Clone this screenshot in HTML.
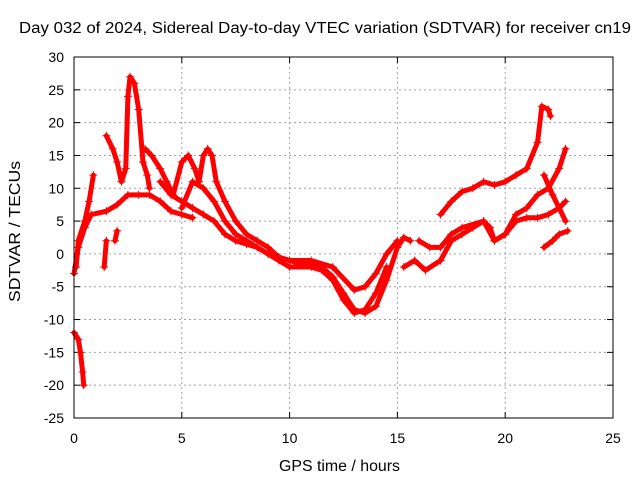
<!DOCTYPE html>
<html><head><meta charset="utf-8"><style>
body{margin:0;background:#fff}
svg{display:block;font-family:"Liberation Sans",sans-serif}
</style></head><body>
<svg id="chart" width="640" height="480" xmlns="http://www.w3.org/2000/svg">
<rect width="640" height="480" fill="#fff"/>
<text x="19" y="33" font-size="15.5" textLength="612" lengthAdjust="spacingAndGlyphs">Day 032 of 2024, Sidereal Day-to-day VTEC variation (SDTVAR) for receiver cn19</text>
<text x="279" y="471" font-size="15.5" textLength="121" lengthAdjust="spacingAndGlyphs">GPS time / hours</text>
<text transform="translate(20,302) rotate(-90)" font-size="15.5" textLength="141" lengthAdjust="spacingAndGlyphs">SDTVAR / TECUs</text>
<g id="grid"></g><g id="ticks"></g><g id="marks"></g>
<rect x="74" y="57" width="539" height="361" fill="none" stroke="#000"/>
</svg>
<script>
const xTicks=[0,5,10,15,20,25];
const yTicks=[30,25,20,15,10,5,0,-5,-10,-15,-20,-25];
const track1=[[0,-3],[0.2,1],[0.5,4],[0.8,6],[1.5,6.5],[2,7.5],[2.5,9],[3,9],[3.5,9],[4,8],[4.5,6.5],[5,6],[5.5,5.5]];
const track2=[[0.1,-2],[0.2,2],[0.5,5],[0.7,8],[0.9,12]];
const track3=[[1.5,18],[1.8,16],[2,14],[2.2,11],[2.4,13],[2.5,24],[2.6,27],[2.8,26],[3,22],[3.2,14],[3.4,12],[3.5,10]];
const track4=[[3.3,16],[3.6,15],[4,13],[4.3,11],[4.6,9],[5,14],[5.3,15],[5.6,13],[5.8,11],[6,15],[6.2,16],[6.4,15],[6.6,11],[7,8],[7.5,5],[8,3],[8.5,2],[9,1],[9.5,-0.5],[10,-1],[10.5,-1.5],[11,-1.5],[11.5,-2],[12,-3.5],[12.5,-6],[13,-8.5],[13.5,-9],[14,-8],[14.5,-4],[15,1],[15.3,2.5],[15.6,2]];
const track5=[[4,11],[4.5,9],[5,8],[5.5,7],[6,6],[6.5,5],[7,3],[7.5,2],[8,1.5],[8.5,1],[9,0],[9.5,-1],[10,-2],[11,-2],[11.5,-2.5],[12,-4],[12.5,-7],[13,-9],[13.5,-8.5],[14,-6],[14.5,-2]];
const track6=[[5,7],[5.5,11],[6,10],[6.5,8],[7,5],[7.5,3],[8,2],[9,0],[10,-1],[11,-1],[12,-2],[13,-5.5],[13.5,-5],[14,-3],[14.5,0],[15,2]];
const track7=[[17,6],[17.5,8],[18,9.5],[18.5,10],[19,11],[19.5,10.5],[20,11],[20.5,12],[21,13],[21.5,17],[21.7,22.5],[22,22],[22.1,21]];
const track8=[[15.3,-2],[15.8,-1],[16.3,-2.5],[17,-1],[17.5,2],[18,3],[18.5,4],[19,5],[19.3,4],[19.5,2],[20,3],[20.5,6],[21,7],[21.5,9],[22,10],[22.5,13],[22.8,16]];
const track9=[[16,2],[16.5,1],[17,1],[17.5,3],[18,4],[19,5],[19.5,2],[20,3],[20.5,5],[21,5.5],[21.5,5.5],[22,6],[22.5,7],[22.8,8]];
const track10=[[21.8,12],[22.2,9],[22.5,7],[22.8,5]];
const track11=[[21.8,1],[22.2,2],[22.5,3],[22.9,3.5]];
const track12=[[0,-12],[0.2,-13],[0.3,-15],[0.4,-18],[0.45,-20]];
const track13=[[1.4,-2],[1.5,2]];
const track14=[[1.9,2],[2,3.5]];
const tracks=[track1,track2,track3,track4,track5,track6,track7,track8,track9,track10,track11,track12,track13,track14];
const X0=74,X1=613,Y0=57,Y1=418,xMin=0,xMax=25,yMin=-25,yMax=30;
const sx=v=>X0+(v-xMin)/(xMax-xMin)*(X1-X0);
const sy=v=>Y1-(v-yMin)/(yMax-yMin)*(Y1-Y0);
const NS="http://www.w3.org/2000/svg";
const grid=document.getElementById('grid'),ticks=document.getElementById('ticks'),marks=document.getElementById('marks');
function mk(tag,attrs,parent){const e=document.createElementNS(NS,tag);for(const k in attrs)e.setAttribute(k,attrs[k]);parent.appendChild(e);return e;}
xTicks.forEach(t=>{
 if(t>xMin&&t<xMax){const g=mk('line',{x1:sx(t),x2:sx(t),y1:Y0,y2:Y1,stroke:'#a0a0a0','stroke-dasharray':'2,3','stroke-width':1},grid);
 
 }
 const tx=mk('text',{x:sx(t),y:Y1+25,'font-size':14,'text-anchor':'middle'},ticks);tx.textContent=t;
 
 
 mk('line',{x1:sx(t),x2:sx(t),y1:Y1,y2:Y1-6,stroke:'#000'},ticks);
 mk('line',{x1:sx(t),x2:sx(t),y1:Y0,y2:Y0+6,stroke:'#000'},ticks);
});
yTicks.forEach(t=>{
 if(t>yMin&&t<yMax){const g=mk('line',{x1:X0,x2:X1,y1:sy(t),y2:sy(t),stroke:'#a0a0a0','stroke-dasharray':'2,3','stroke-width':1},grid);
 
 }
 const tx=mk('text',{x:X0-10,y:sy(t)+5,'font-size':14,'text-anchor':'end'},ticks);tx.textContent=t;
 
 
 mk('line',{x1:X0,x2:X0+6,y1:sy(t),y2:sy(t),stroke:'#000'},ticks);
 mk('line',{x1:X1,x2:X1-6,y1:sy(t),y2:sy(t),stroke:'#000'},ticks);
});
tracks.forEach((tr,i)=>{
 const pts=tr.map(p=>sx(p[0])+','+sy(p[1])).join(' ');
 const pl=mk('polyline',{points:pts,fill:'none',stroke:'#f00','stroke-width':5,'stroke-linejoin':'round','stroke-linecap':'round'},marks);
 
 
 tr.forEach(p=>{
  const x=sx(p[0]),y=sy(p[1]);
  const m=mk('path',{d:`M${x-4},${y}H${x+4}M${x},${y-4}V${y+4}`,stroke:'#f00','stroke-width':1},marks);
  
  
 });
});
</script>
</body></html>
